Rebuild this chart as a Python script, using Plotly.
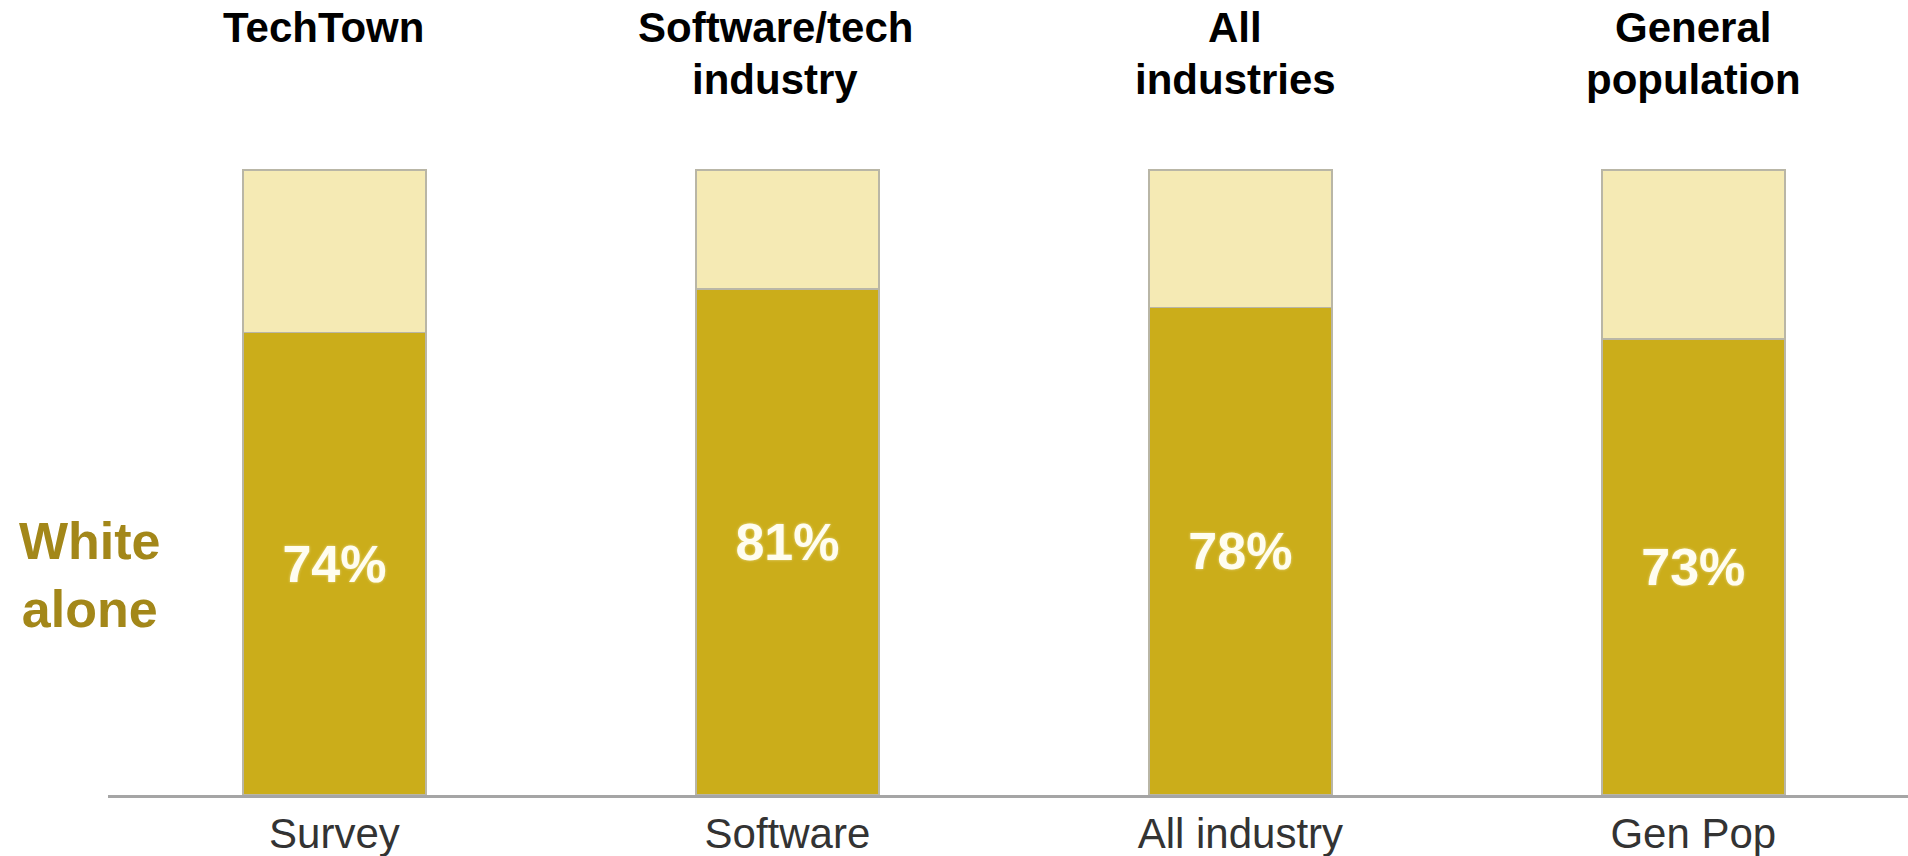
import plotly.graph_objects as go

# Data
categories = ["Survey", "Software", "All industry", "Gen Pop"]
group_titles = [["TechTown"], ["Software/tech", "industry"], ["All", "industries"], ["General", "population"]]
white_alone_pct = [74, 81, 78, 73]
other_pct = [26, 19, 22, 27]

W, H = 1908, 856
ML, MR, MT, MB = 108, 0, 120, 61
plot_h = H - MT - MB

DARK = "#CBAD1A"
LIGHT = "#F5EAB4"
OUTLINE = "#B9B6A6"
FONT = "Liberation Sans, Arial, sans-serif"

# heading layout (pixels from top of page)
HEAD_TOP = 2
HEAD_LINE_STEP = 52
HEAD_XSHIFT = [-11, -12, -5, 0]

fig = go.Figure()
fig.add_trace(go.Bar(
    x=categories, y=white_alone_pct,
    marker=dict(color=DARK, line=dict(color=OUTLINE, width=1.5)),
    width=0.404,
    text=[f"{v}%" for v in white_alone_pct],
    textposition="inside", insidetextanchor="middle",
    textfont=dict(family=FONT, size=52, color="#FFFDF0", weight="bold",
                  shadow="0px 0px 3px rgba(255,250,220,0.6)"),
    textangle=0,
    hoverinfo="skip",
))
fig.add_trace(go.Bar(
    x=categories, y=other_pct,
    marker=dict(color=LIGHT, line=dict(color=OUTLINE, width=1.5)),
    width=0.404,
    hoverinfo="skip",
))

# Group headings above each bar, one annotation per line
for cat, lines, dx in zip(categories, group_titles, HEAD_XSHIFT):
    for i, line in enumerate(lines):
        top_px = HEAD_TOP + i * HEAD_LINE_STEP
        fig.add_annotation(
            x=cat, xref="x", y=(H - MB - top_px) / plot_h, yref="paper",
            text=f"<b>{line}</b>", showarrow=False, xshift=dx,
            xanchor="center", yanchor="top", align="center",
            font=dict(family=FONT, size=42, color="#000000"),
        )

# Series label on the left
fig.add_annotation(
    x=(90 - ML) / (W - ML - MR), xref="paper",
    y=(795 - 575) / plot_h, yref="paper",
    text="<b>White<br>alone</b>", showarrow=False,
    xanchor="center", yanchor="middle", align="center",
    font=dict(family=FONT, size=52, color="#A38719"),
)

fig.update_layout(
    width=W, height=H,
    margin=dict(l=ML, r=MR, t=MT, b=MB, pad=0),
    barmode="stack",
    showlegend=False,
    plot_bgcolor="white", paper_bgcolor="white",
    xaxis=dict(
        range=[-0.5, 3.474], showgrid=False, zeroline=False,
        showline=True, linecolor="#A5A5A5", linewidth=3,
        tickfont=dict(family=FONT, size=42, color="#333333"),
        ticks="", automargin=False, fixedrange=True,
    ),
    yaxis=dict(
        range=[0, 100 * plot_h / 625], visible=False,
        showgrid=False, zeroline=False, automargin=False, fixedrange=True,
    ),
)

fig.write_html("out.html", config={"displayModeBar": False})
